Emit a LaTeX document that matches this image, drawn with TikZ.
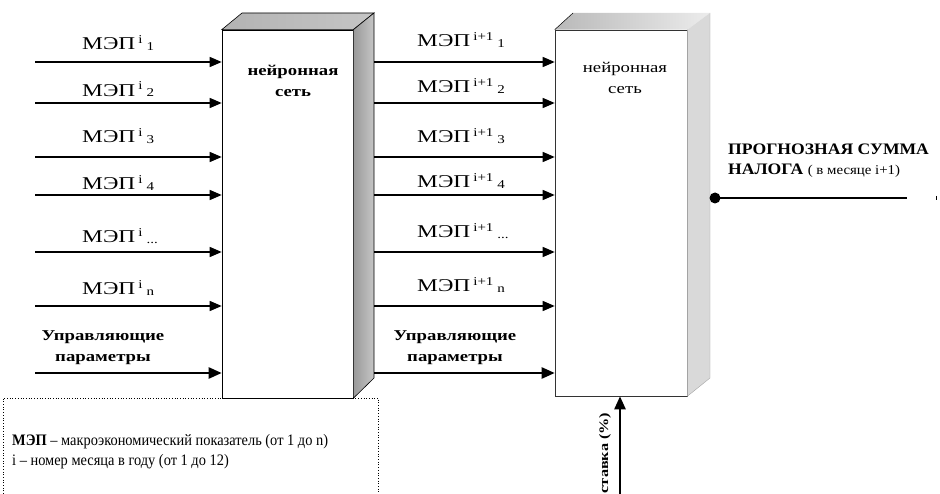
\documentclass[tikz,border=0pt]{standalone}
\usepackage{fontspec}
\setmainfont{Liberation Serif}
\newfontfamily\wideserif{Liberation Serif}[FakeStretch=1.25]
\newfontfamily\mepfont{Liberation Serif}[FakeStretch=1.3]
\newfontfamily\outfont{Liberation Serif}[FakeStretch=1.1]
\newfontfamily\legfont{Liberation Serif}[FakeStretch=0.9]
\usetikzlibrary{arrows.meta}
\newcommand{\mepl}[2]{\mepfont\fontsize{18}{18}\selectfont МЭП\hspace{3pt}\raisebox{6.5pt}{\wideserif\fontsize{12}{12}\selectfont #1}\hspace{4pt}\raisebox{-0.5pt}{\wideserif\fontsize{12}{12}\selectfont #2}}
\begin{document}
\begin{tikzpicture}[x=1pt,y=-1pt,
  arr/.style={line width=1.4pt,-{Triangle[length=12pt,width=10pt]}},
  ctrl/.style={line width=2.4pt,-{Triangle[length=13pt,width=11pt]}},
  lab/.style={anchor=base west,inner sep=0pt},
  blab/.style={align=center,inner sep=0pt,font=\wideserif\bfseries\fontsize{15}{21}\selectfont},
  frontface/.style={draw,line width=0.6pt,fill=white,inner sep=0pt}]
\useasboundingbox (0,0) rectangle (940,494);

% box 1
\node[frontface,minimum width=131pt,minimum height=368pt] (nn1) at (287.5,214) {};
\shade[left color=gray!60,right color=gray!45,draw,line width=0.6pt] (nn1.north west) -- (242,13) -- (374,13) -- (nn1.north east) -- cycle;
\shade[left color=gray!80,right color=gray!45,draw,line width=0.6pt] (nn1.north east) -- (374,13) -- (374,378) -- (nn1.south east) -- cycle;
\node[blab] (t1) at (293,81) {нейронная\\сеть};

% box 2
\node[frontface,draw=black!80,minimum width=132pt,minimum height=366pt] (nn2) at (621,213) {};
\shade[left color=gray!55,right color=gray!15] (nn2.north west) -- (573,13) -- (710,13) -- (nn2.north east) -- cycle;
\draw[line width=0.5pt] (nn2.north west) -- (573,13);
\fill[gray!30] (nn2.north east) -- (710,13) -- (710,378) -- (nn2.south east) -- cycle;
\draw[gray!70,line width=0.4pt] (nn2.north east) -- (nn2.south east) -- (710,378) -- (710,13);
\node[blab,font=\wideserif\fontsize{15}{21}\selectfont] (t2) at (625,78) {нейронная\\сеть};

% left inputs
\foreach \i/\y in {1/62,2/103,3/157,4/195,5/252,6/306}{
  \coordinate (l\i) at (35,\y);
  \draw[arr] (l\i) -- (l\i -| nn1.west);
}
\coordinate (l7) at (35,373);
\draw[ctrl] (l7) -- (l7 -| nn1.west);

\node[lab] (la1) at (82,50) {\mepl{i}{1}};
\node[lab] (la2) at (82,96.5) {\mepl{i}{2}};
\node[lab] (la3) at (82,143) {\mepl{i}{3}};
\node[lab] (la4) at (82,190) {\mepl{i}{4}};
\node[lab] (la5) at (82,243) {\mepl{i}{...}};
\node[lab] (la6) at (82,295) {\mepl{i}{n}};
\node[blab] (lc) at (103,348) {Управляющие\\параметры};

% middle
\foreach \i/\y in {1/62,2/103,3/157,4/195,5/252,6/306}{
  \coordinate (m\i) at (374,\y);
  \draw[arr] (m\i) -- (m\i -| nn2.west);
}
\coordinate (m7) at (374,373);
\draw[ctrl] (m7) -- (m7 -| nn2.west);

\node[lab] (ma1) at (417,47) {\mepl{i+1}{1}};
\node[lab] (ma2) at (417,93) {\mepl{i+1}{2}};
\node[lab] (ma3) at (417,143) {\mepl{i+1}{3}};
\node[lab] (ma4) at (417,188) {\mepl{i+1}{4}};
\node[lab] (ma5) at (417,238) {\mepl{i+1}{...}};
\node[lab] (ma6) at (417,292) {\mepl{i+1}{n}};
\node[blab] (mc) at (455,348) {Управляющие\\параметры};

% output
\coordinate (outdot) at (715,198);
\coordinate (outend) at (907,198);
\draw[line width=1.8pt] (outdot) -- (outend);
\fill (outdot) circle (5.5pt);
\node[anchor=base west,align=left,inner sep=0pt,font=\outfont\bfseries\fontsize{16}{20}\selectfont] (outlab) at (728,175)
  {ПРОГНОЗНАЯ СУММА\\НАЛОГА {\mdseries\fontsize{13.5}{13.5}\selectfont ( в месяце i+1)}};
\coordinate (tick) at (936,196);
\draw[line width=0.8pt] (tick) -- ++(0,4);

% bottom input
\coordinate (rate) at (620,494);
\draw[ctrl] (rate) -- (rate |- nn2.south);
\node[rotate=90,inner sep=0pt,font=\wideserif\bfseries\fontsize{13}{13}\selectfont] (ratelab) at (605,453) {ставка (\%)};

% legend
\draw[dotted,line width=0.7pt] (3,510) -- (3,398) -- (378,398) -- (378,510);
\node[anchor=base west,align=left,inner sep=0pt,font=\legfont\fontsize{16}{20}\selectfont] (leg) at (12,465)
  {\textbf{МЭП} – макроэкономический показатель (от 1 до n)\\i – номер месяца в году (от 1 до 12)};
\end{tikzpicture}
\end{document}
